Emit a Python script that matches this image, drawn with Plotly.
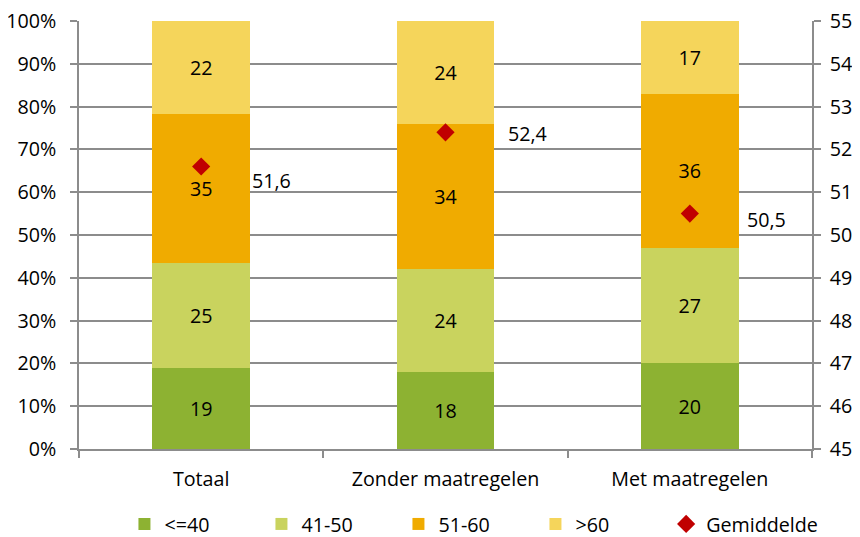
import plotly.graph_objects as go

categories = ["Totaal", "Zonder maatregelen", "Met maatregelen"]
series_names = ["<=40", "41-50", "51-60", ">60"]
v_le40 = [19, 18, 20]
v_41_50 = [25, 24, 27]
v_51_60 = [35, 34, 36]
v_gt60 = [22, 24, 17]
gemiddelde = [51.6, 52.4, 50.5]
left_ticks = [0, 10, 20, 30, 40, 50, 60, 70, 80, 90, 100]
right_ticks = [45, 46, 47, 48, 49, 50, 51, 52, 53, 54, 55]

colors = ["#8DB232", "#C9D35E", "#F0AB00", "#F5D55B"]
FONT = "Open Sans"
FS = 19.7

fig = go.Figure()
for name, vals, col in zip(series_names, [v_le40, v_41_50, v_51_60, v_gt60], colors):
    fig.add_trace(go.Bar(
        x=categories, y=vals, name=name, marker=dict(color=col, line=dict(width=0)),
        text=[str(v) for v in vals], textposition="inside", insidetextanchor="middle",
        textangle=0, textfont=dict(color="black", family=FONT, size=FS),
        width=0.4, hoverinfo="skip", legend="legend"))

fig.add_trace(go.Scatter(
    x=categories, y=gemiddelde, name="Gemiddelde", yaxis="y2", mode="markers",
    marker=dict(symbol="diamond", size=14, color="#C00000"), legend="legend2"))

label_shifts = [(49, -14), (60, -1), (55, -6)]
for c, g, (dx, dy) in zip(categories, gemiddelde, label_shifts):
    fig.add_annotation(x=c, y=g, xref="x", yref="y2", text=f"{g:.1f}".replace(".", ","),
                       showarrow=False, xanchor="left", yanchor="middle",
                       xshift=dx, yshift=dy, font=dict(family=FONT, size=FS, color="black"))

grid_col = "#8C8C8C"
# page body adds an 8px offset, so the figure is 8px smaller and margins shifted
fig.update_layout(
    barmode="stack", barnorm="percent",
    width=852, height=529,
    margin=dict(l=71, r=48, t=13, b=88, autoexpand=False),
    paper_bgcolor="white", plot_bgcolor="white",
    font=dict(family=FONT, size=FS, color="black"),
    showlegend=True,
    legend=dict(orientation="h", x=0.062, xanchor="left", y=-0.130, yanchor="top",
                entrywidth=92, font=dict(family=FONT, size=FS), traceorder="normal",
                itemclick=False),
    legend2=dict(orientation="h", x=0.801, xanchor="left", y=-0.130, yanchor="top",
                 font=dict(family=FONT, size=FS), itemclick=False),
    xaxis=dict(showline=True, linecolor=grid_col, linewidth=1.5, ticks="outside",
               tickson="boundaries", ticklen=7, tickcolor=grid_col, tickwidth=1.5,
               showgrid=False, ticklabelstandoff=12, automargin=False),
    yaxis=dict(range=[0, 100], tickvals=left_ticks, ticktext=[f"{t}%" for t in left_ticks],
               showline=True, linecolor=grid_col, linewidth=1.5, ticks="outside",
               ticklen=7, tickcolor=grid_col, tickwidth=1.5,
               showgrid=True, gridcolor=grid_col, gridwidth=1.5, zeroline=False,
               ticklabelstandoff=10, automargin=False, ticklabeloverflow="allow"),
    yaxis2=dict(range=[45, 55], tickvals=right_ticks, overlaying="y", side="right",
                showline=True, linecolor=grid_col, linewidth=1.5, ticks="outside",
                ticklen=7, tickcolor=grid_col, tickwidth=1.5, showgrid=False,
                zeroline=False, ticklabelstandoff=5, automargin=False,
                ticklabeloverflow="allow"),
)
fig.write_html("out.html")
